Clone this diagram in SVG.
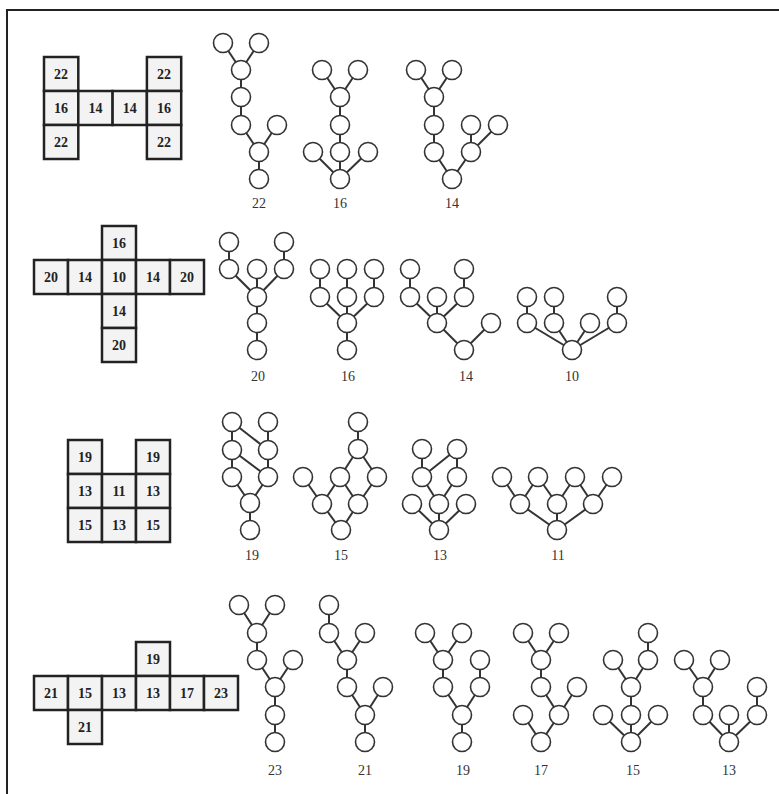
<svg xmlns="http://www.w3.org/2000/svg" width="779" height="794" viewBox="0 0 779 794">
<style>
.cell{fill:#f3f3f3;stroke:#222;stroke-width:2.5}
.ct{font-family:"Liberation Serif",serif;font-weight:bold;font-size:14px;fill:#222;text-anchor:middle}
.lb{font-family:"Liberation Serif",serif;font-size:14px;fill:#333;text-anchor:middle}
circle{fill:#fff;stroke:#333;stroke-width:1.6}
.e line{stroke:#333;stroke-width:2}
</style>
<rect width="779" height="794" fill="#fff"/>
<line x1="6" y1="10" x2="779" y2="10" stroke="#222" stroke-width="2"/>
<line x1="7" y1="9" x2="7" y2="794" stroke="#222" stroke-width="2"/>

<!-- grids -->
<g id="grid1">
<rect class="cell" x="44" y="57" width="34.3" height="34"/><text class="ct" x="61" y="79">22</text>
<rect class="cell" x="44" y="91" width="34.3" height="34"/><text class="ct" x="61" y="113">16</text>
<rect class="cell" x="44" y="125" width="34.3" height="34"/><text class="ct" x="61" y="147">22</text>
<rect class="cell" x="78.3" y="91" width="34.3" height="34"/><text class="ct" x="95.5" y="113">14</text>
<rect class="cell" x="112.6" y="91" width="34.3" height="34"/><text class="ct" x="129.8" y="113">14</text>
<rect class="cell" x="146.9" y="57" width="34.3" height="34"/><text class="ct" x="164" y="79">22</text>
<rect class="cell" x="146.9" y="91" width="34.3" height="34"/><text class="ct" x="164" y="113">16</text>
<rect class="cell" x="146.9" y="125" width="34.3" height="34"/><text class="ct" x="164" y="147">22</text>
</g>
<g id="grid2">
<rect class="cell" x="102" y="226" width="34" height="34"/><text class="ct" x="119" y="248">16</text>
<rect class="cell" x="34" y="260" width="34" height="34"/><text class="ct" x="51" y="282">20</text>
<rect class="cell" x="68" y="260" width="34" height="34"/><text class="ct" x="85" y="282">14</text>
<rect class="cell" x="102" y="260" width="34" height="34"/><text class="ct" x="119" y="282">10</text>
<rect class="cell" x="136" y="260" width="34" height="34"/><text class="ct" x="153" y="282">14</text>
<rect class="cell" x="170" y="260" width="34" height="34"/><text class="ct" x="187" y="282">20</text>
<rect class="cell" x="102" y="294" width="34" height="34"/><text class="ct" x="119" y="316">14</text>
<rect class="cell" x="102" y="328" width="34" height="34"/><text class="ct" x="119" y="350">20</text>
</g>
<g id="grid3">
<rect class="cell" x="68" y="440" width="34" height="34"/><text class="ct" x="85" y="462">19</text>
<rect class="cell" x="136" y="440" width="34" height="34"/><text class="ct" x="153" y="462">19</text>
<rect class="cell" x="68" y="474" width="34" height="34"/><text class="ct" x="85" y="496">13</text>
<rect class="cell" x="102" y="474" width="34" height="34"/><text class="ct" x="119" y="496">11</text>
<rect class="cell" x="136" y="474" width="34" height="34"/><text class="ct" x="153" y="496">13</text>
<rect class="cell" x="68" y="508" width="34" height="34"/><text class="ct" x="85" y="530">15</text>
<rect class="cell" x="102" y="508" width="34" height="34"/><text class="ct" x="119" y="530">13</text>
<rect class="cell" x="136" y="508" width="34" height="34"/><text class="ct" x="153" y="530">15</text>
</g>
<g id="grid4">
<rect class="cell" x="136" y="642" width="34" height="34"/><text class="ct" x="153" y="664">19</text>
<rect class="cell" x="34" y="676" width="34" height="34"/><text class="ct" x="51" y="698">21</text>
<rect class="cell" x="68" y="676" width="34" height="34"/><text class="ct" x="85" y="698">15</text>
<rect class="cell" x="102" y="676" width="34" height="34"/><text class="ct" x="119" y="698">13</text>
<rect class="cell" x="136" y="676" width="34" height="34"/><text class="ct" x="153" y="698">13</text>
<rect class="cell" x="170" y="676" width="34" height="34"/><text class="ct" x="187" y="698">17</text>
<rect class="cell" x="204" y="676" width="34" height="34"/><text class="ct" x="221" y="698">23</text>
<rect class="cell" x="68" y="710" width="34" height="34"/><text class="ct" x="85" y="732">21</text>
</g>

<!-- connectors -->
<g id="connectors" class="e">
<!-- 1a -->
<line x1="223" y1="43" x2="241" y2="70"/><line x1="259" y1="43" x2="241" y2="70"/><line x1="241" y1="70" x2="241" y2="125"/><line x1="241" y1="125" x2="259" y2="152"/><line x1="277" y1="125" x2="259" y2="152"/><line x1="259" y1="152" x2="259" y2="179"/>
<!-- 1b -->
<line x1="322" y1="70" x2="340" y2="97"/><line x1="358" y1="70" x2="340" y2="97"/><line x1="340" y1="97" x2="340" y2="179"/><line x1="313" y1="152" x2="340" y2="179"/><line x1="368" y1="152" x2="340" y2="179"/>
<!-- 1c -->
<line x1="416" y1="70" x2="434" y2="97"/><line x1="452" y1="70" x2="434" y2="97"/><line x1="434" y1="97" x2="434" y2="152"/><line x1="434" y1="152" x2="452" y2="179"/><line x1="471" y1="125" x2="471" y2="152"/><line x1="498" y1="125" x2="471" y2="152"/><line x1="471" y1="152" x2="452" y2="179"/>
<!-- 2a -->
<line x1="229" y1="242" x2="229" y2="269"/><line x1="284" y1="242" x2="284" y2="269"/><line x1="229" y1="269" x2="257" y2="297"/><line x1="257" y1="269" x2="257" y2="297"/><line x1="284" y1="269" x2="257" y2="297"/><line x1="257" y1="297" x2="257" y2="350"/>
<!-- 2b -->
<line x1="320" y1="269" x2="320" y2="297"/><line x1="347" y1="269" x2="347" y2="297"/><line x1="374" y1="269" x2="374" y2="297"/><line x1="320" y1="297" x2="347" y2="323"/><line x1="347" y1="297" x2="347" y2="350"/><line x1="374" y1="297" x2="347" y2="323"/>
<!-- 2c -->
<line x1="410" y1="269" x2="410" y2="297"/><line x1="464" y1="269" x2="464" y2="297"/><line x1="410" y1="297" x2="437" y2="323"/><line x1="437" y1="297" x2="437" y2="323"/><line x1="464" y1="297" x2="437" y2="323"/><line x1="437" y1="323" x2="464" y2="350"/><line x1="491" y1="323" x2="464" y2="350"/>
<!-- 2d -->
<line x1="527" y1="297" x2="527" y2="323"/><line x1="554" y1="297" x2="554" y2="323"/><line x1="617" y1="297" x2="617" y2="323"/><line x1="527" y1="323" x2="572" y2="350"/><line x1="554" y1="323" x2="572" y2="350"/><line x1="590" y1="323" x2="572" y2="350"/><line x1="617" y1="323" x2="572" y2="350"/>
<!-- 3a -->
<line x1="232" y1="422" x2="232" y2="477"/><line x1="232" y1="422" x2="268" y2="450"/><line x1="268" y1="422" x2="268" y2="477"/><line x1="232" y1="450" x2="268" y2="477"/><line x1="232" y1="477" x2="250" y2="503"/><line x1="268" y1="477" x2="250" y2="503"/><line x1="250" y1="503" x2="250" y2="530"/>
<!-- 3b -->
<line x1="358" y1="422" x2="358" y2="449"/><line x1="358" y1="449" x2="340" y2="477"/><line x1="358" y1="449" x2="377" y2="477"/><line x1="303" y1="477" x2="322" y2="504"/><line x1="340" y1="477" x2="322" y2="504"/><line x1="340" y1="477" x2="358" y2="504"/><line x1="377" y1="477" x2="358" y2="504"/><line x1="322" y1="504" x2="341" y2="530"/><line x1="358" y1="504" x2="341" y2="530"/>
<!-- 3c -->
<line x1="422" y1="449" x2="422" y2="477"/><line x1="457" y1="449" x2="422" y2="477"/><line x1="457" y1="449" x2="457" y2="477"/><line x1="422" y1="477" x2="439" y2="504"/><line x1="457" y1="477" x2="439" y2="504"/><line x1="412" y1="504" x2="439" y2="530"/><line x1="439" y1="504" x2="439" y2="530"/><line x1="466" y1="504" x2="439" y2="530"/>
<!-- 3d -->
<line x1="502" y1="477" x2="520" y2="504"/><line x1="538" y1="477" x2="520" y2="504"/><line x1="538" y1="477" x2="557" y2="504"/><line x1="575" y1="477" x2="557" y2="504"/><line x1="575" y1="477" x2="593" y2="504"/><line x1="612" y1="477" x2="593" y2="504"/><line x1="520" y1="504" x2="557" y2="530"/><line x1="557" y1="504" x2="557" y2="530"/><line x1="593" y1="504" x2="557" y2="530"/>
<!-- 4a -->
<line x1="239" y1="605" x2="257" y2="633"/><line x1="275" y1="605" x2="257" y2="633"/><line x1="257" y1="633" x2="257" y2="660"/><line x1="257" y1="660" x2="275" y2="687"/><line x1="293" y1="660" x2="275" y2="687"/><line x1="275" y1="687" x2="275" y2="742"/>
<!-- 4b -->
<line x1="329" y1="605" x2="329" y2="633"/><line x1="329" y1="633" x2="347" y2="660"/><line x1="365" y1="633" x2="347" y2="660"/><line x1="347" y1="660" x2="347" y2="687"/><line x1="347" y1="687" x2="365" y2="715"/><line x1="383" y1="687" x2="365" y2="715"/><line x1="365" y1="715" x2="365" y2="742"/>
<!-- 4c -->
<line x1="425" y1="633" x2="443" y2="660"/><line x1="462" y1="633" x2="443" y2="660"/><line x1="480" y1="660" x2="480" y2="687"/><line x1="443" y1="660" x2="443" y2="687"/><line x1="443" y1="687" x2="462" y2="715"/><line x1="480" y1="687" x2="462" y2="715"/><line x1="462" y1="715" x2="462" y2="742"/>
<!-- 4d -->
<line x1="523" y1="633" x2="541" y2="660"/><line x1="559" y1="633" x2="541" y2="660"/><line x1="541" y1="660" x2="541" y2="687"/><line x1="541" y1="687" x2="559" y2="715"/><line x1="577" y1="687" x2="559" y2="715"/><line x1="523" y1="715" x2="541" y2="742"/><line x1="559" y1="715" x2="541" y2="742"/>
<!-- 4e -->
<line x1="648" y1="633" x2="648" y2="660"/><line x1="613" y1="660" x2="631" y2="687"/><line x1="648" y1="660" x2="631" y2="687"/><line x1="631" y1="687" x2="631" y2="742"/><line x1="603" y1="715" x2="631" y2="742"/><line x1="658" y1="715" x2="631" y2="742"/>
<!-- 4f -->
<line x1="684" y1="660" x2="703" y2="687"/><line x1="720" y1="660" x2="703" y2="687"/><line x1="703" y1="687" x2="703" y2="715"/><line x1="757" y1="687" x2="757" y2="715"/><line x1="703" y1="715" x2="729" y2="742"/><line x1="729" y1="715" x2="729" y2="742"/><line x1="757" y1="715" x2="729" y2="742"/>
</g>

<!-- trees -->
<g id="tree-1-22"><circle cx="223" cy="43" r="9.5"/><circle cx="259" cy="43" r="9.5"/><circle cx="241" cy="70" r="9.5"/><circle cx="241" cy="97" r="9.5"/><circle cx="241" cy="125" r="9.5"/><circle cx="277" cy="125" r="9.5"/><circle cx="259" cy="152" r="9.5"/><circle cx="259" cy="179" r="9.5"/><text class="lb" x="259" y="208">22</text></g>
<g id="tree-1-16"><circle cx="322" cy="70" r="9.5"/><circle cx="358" cy="70" r="9.5"/><circle cx="340" cy="97" r="9.5"/><circle cx="340" cy="125" r="9.5"/><circle cx="340" cy="152" r="9.5"/><circle cx="313" cy="152" r="9.5"/><circle cx="368" cy="152" r="9.5"/><circle cx="340" cy="179" r="9.5"/><text class="lb" x="340" y="208">16</text></g>
<g id="tree-1-14"><circle cx="416" cy="70" r="9.5"/><circle cx="452" cy="70" r="9.5"/><circle cx="434" cy="97" r="9.5"/><circle cx="434" cy="125" r="9.5"/><circle cx="434" cy="152" r="9.5"/><circle cx="471" cy="125" r="9.5"/><circle cx="498" cy="125" r="9.5"/><circle cx="471" cy="152" r="9.5"/><circle cx="452" cy="179" r="9.5"/><text class="lb" x="452" y="208">14</text></g>

<g id="tree-2-20"><circle cx="229" cy="242" r="9.5"/><circle cx="284" cy="242" r="9.5"/><circle cx="229" cy="269" r="9.5"/><circle cx="257" cy="269" r="9.5"/><circle cx="284" cy="269" r="9.5"/><circle cx="257" cy="297" r="9.5"/><circle cx="257" cy="323" r="9.5"/><circle cx="257" cy="350" r="9.5"/><text class="lb" x="258" y="381">20</text></g>
<g id="tree-2-16"><circle cx="320" cy="269" r="9.5"/><circle cx="347" cy="269" r="9.5"/><circle cx="374" cy="269" r="9.5"/><circle cx="320" cy="297" r="9.5"/><circle cx="347" cy="297" r="9.5"/><circle cx="374" cy="297" r="9.5"/><circle cx="347" cy="323" r="9.5"/><circle cx="347" cy="350" r="9.5"/><text class="lb" x="348" y="381">16</text></g>
<g id="tree-2-14"><circle cx="410" cy="269" r="9.5"/><circle cx="464" cy="269" r="9.5"/><circle cx="410" cy="297" r="9.5"/><circle cx="437" cy="297" r="9.5"/><circle cx="464" cy="297" r="9.5"/><circle cx="437" cy="323" r="9.5"/><circle cx="491" cy="323" r="9.5"/><circle cx="464" cy="350" r="9.5"/><text class="lb" x="466" y="381">14</text></g>
<g id="tree-2-10"><circle cx="527" cy="297" r="9.5"/><circle cx="554" cy="297" r="9.5"/><circle cx="617" cy="297" r="9.5"/><circle cx="527" cy="323" r="9.5"/><circle cx="554" cy="323" r="9.5"/><circle cx="590" cy="323" r="9.5"/><circle cx="617" cy="323" r="9.5"/><circle cx="572" cy="350" r="9.5"/><text class="lb" x="572" y="381">10</text></g>

<g id="tree-3-19"><circle cx="232" cy="422" r="9.5"/><circle cx="268" cy="422" r="9.5"/><circle cx="232" cy="450" r="9.5"/><circle cx="268" cy="450" r="9.5"/><circle cx="232" cy="477" r="9.5"/><circle cx="268" cy="477" r="9.5"/><circle cx="250" cy="503" r="9.5"/><circle cx="250" cy="530" r="9.5"/><text class="lb" x="252" y="560">19</text></g>
<g id="tree-3-15"><circle cx="358" cy="422" r="9.5"/><circle cx="358" cy="449" r="9.5"/><circle cx="303" cy="477" r="9.5"/><circle cx="340" cy="477" r="9.5"/><circle cx="377" cy="477" r="9.5"/><circle cx="322" cy="504" r="9.5"/><circle cx="358" cy="504" r="9.5"/><circle cx="341" cy="530" r="9.5"/><text class="lb" x="341" y="560">15</text></g>
<g id="tree-3-13"><circle cx="422" cy="449" r="9.5"/><circle cx="457" cy="449" r="9.5"/><circle cx="422" cy="477" r="9.5"/><circle cx="457" cy="477" r="9.5"/><circle cx="412" cy="504" r="9.5"/><circle cx="439" cy="504" r="9.5"/><circle cx="466" cy="504" r="9.5"/><circle cx="439" cy="530" r="9.5"/><text class="lb" x="440" y="560">13</text></g>
<g id="tree-3-11"><circle cx="502" cy="477" r="9.5"/><circle cx="538" cy="477" r="9.5"/><circle cx="575" cy="477" r="9.5"/><circle cx="612" cy="477" r="9.5"/><circle cx="520" cy="504" r="9.5"/><circle cx="557" cy="504" r="9.5"/><circle cx="593" cy="504" r="9.5"/><circle cx="557" cy="530" r="9.5"/><text class="lb" x="558" y="560">11</text></g>

<g id="tree-4-23"><circle cx="239" cy="605" r="9.5"/><circle cx="275" cy="605" r="9.5"/><circle cx="257" cy="633" r="9.5"/><circle cx="257" cy="660" r="9.5"/><circle cx="293" cy="660" r="9.5"/><circle cx="275" cy="687" r="9.5"/><circle cx="275" cy="715" r="9.5"/><circle cx="275" cy="742" r="9.5"/><text class="lb" x="275" y="775">23</text></g>
<g id="tree-4-21"><circle cx="329" cy="605" r="9.5"/><circle cx="329" cy="633" r="9.5"/><circle cx="365" cy="633" r="9.5"/><circle cx="347" cy="660" r="9.5"/><circle cx="347" cy="687" r="9.5"/><circle cx="383" cy="687" r="9.5"/><circle cx="365" cy="715" r="9.5"/><circle cx="365" cy="742" r="9.5"/><text class="lb" x="365" y="775">21</text></g>
<g id="tree-4-19"><circle cx="425" cy="633" r="9.5"/><circle cx="462" cy="633" r="9.5"/><circle cx="443" cy="660" r="9.5"/><circle cx="480" cy="660" r="9.5"/><circle cx="443" cy="687" r="9.5"/><circle cx="480" cy="687" r="9.5"/><circle cx="462" cy="715" r="9.5"/><circle cx="462" cy="742" r="9.5"/><text class="lb" x="463" y="775">19</text></g>
<g id="tree-4-17"><circle cx="523" cy="633" r="9.5"/><circle cx="559" cy="633" r="9.5"/><circle cx="541" cy="660" r="9.5"/><circle cx="541" cy="687" r="9.5"/><circle cx="577" cy="687" r="9.5"/><circle cx="523" cy="715" r="9.5"/><circle cx="559" cy="715" r="9.5"/><circle cx="541" cy="742" r="9.5"/><text class="lb" x="541" y="775">17</text></g>
<g id="tree-4-15"><circle cx="648" cy="633" r="9.5"/><circle cx="613" cy="660" r="9.5"/><circle cx="648" cy="660" r="9.5"/><circle cx="631" cy="687" r="9.5"/><circle cx="603" cy="715" r="9.5"/><circle cx="631" cy="715" r="9.5"/><circle cx="658" cy="715" r="9.5"/><circle cx="631" cy="742" r="9.5"/><text class="lb" x="633" y="775">15</text></g>
<g id="tree-4-13"><circle cx="684" cy="660" r="9.5"/><circle cx="720" cy="660" r="9.5"/><circle cx="703" cy="687" r="9.5"/><circle cx="757" cy="687" r="9.5"/><circle cx="703" cy="715" r="9.5"/><circle cx="729" cy="715" r="9.5"/><circle cx="757" cy="715" r="9.5"/><circle cx="729" cy="742" r="9.5"/><text class="lb" x="729" y="775">13</text></g>
</svg>
